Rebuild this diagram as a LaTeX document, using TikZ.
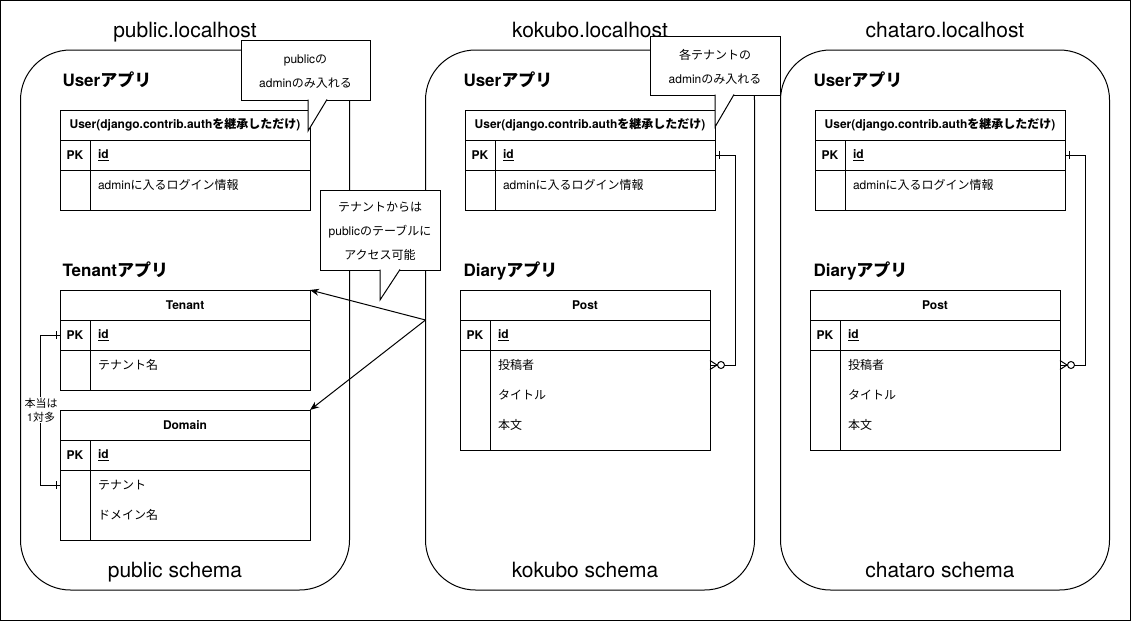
\documentclass[tikz,border=0pt]{standalone}
\usepackage{fontspec}
\setmainfont{TeX Gyre Heros}
\newfontfamily\jp{Noto Sans CJK JP}
\usetikzlibrary{arrows.meta}
\usetikzlibrary{calc}

% one ER table: name, x, y, title, body height, rows
\newcommand{\ertable}[6]{%
\node[tblhead,anchor=north west] (#1-head) at (#2,#3) {#4};
\node[pkcell,anchor=north west] (#1-pk) at (#1-head.south west) {PK};
\node[idcell,anchor=north west] (#1-id) at (#1-pk.north east) {\underline{id}};
\draw (#1-pk.south west) rectangle ($(#1-id.south east)+(0,#5)$);
\draw (#1-pk.south east) -- ++(0,#5);
\foreach \fld [count=\k] in {#6}
  \node[fieldcell,anchor=north west] (#1-r\k) at ($(#1-id.south west)+(0,{30*(\k-1)})$) {\fld};
}

\begin{document}
\begin{tikzpicture}[x=1pt,y=-1pt,line width=1pt,
schema/.style={draw,rounded corners=50pt,minimum width=329,minimum height=540,inner sep=0,outer sep=0},
host/.style={anchor=base,inner sep=0,font=\fontsize{21}{24}\selectfont},
applabel/.style={anchor=base west,inner sep=0,font=\fontsize{17}{20}\selectfont\bfseries},
tblhead/.style={draw,minimum width=250,minimum height=30,inner sep=0,outer sep=0,font=\fontsize{12}{14}\selectfont\bfseries},
pkcell/.style={draw,minimum width=30,minimum height=30,inner sep=0,outer sep=0,font=\fontsize{12}{14}\selectfont\bfseries},
idcell/.style={draw,text width=204pt,inner xsep=8pt,inner ysep=0,minimum height=30,outer sep=0,align=left,font=\fontsize{12}{14}\selectfont\bfseries},
fieldcell/.style={text width=204pt,inner xsep=8pt,inner ysep=0,minimum height=30,outer sep=0,align=left,font=\fontsize{12}{14}\selectfont},
note/.style={align=center,inner sep=0,font=\fontsize{12}{24}\selectfont},
relnote/.style={fill=white,align=center,inner sep=1pt,font=\fontsize{11}{14}\selectfont}]
\useasboundingbox (0,0) rectangle (1131,621);
\draw (0.5,0.5) rectangle (1130.5,620.5);

% public
\node[schema] (public) at (185,320) {};
\node[host] at (185,37) {public.localhost};
\node[host] at (175,577) {public schema};
\node[applabel] at (62,86) {User{\jp アプリ}};
\ertable{public-user}{60}{110}{User(django.contrib.auth{\jp を継承しただけ})}{40}{admin{\jp に入るログイン情報}}
\node[applabel] at (62,276) {Tenant{\jp アプリ}};
\ertable{tenant}{60}{290}{Tenant}{40}{{\jp テナント名}}
\ertable{domain}{60}{410}{Domain}{70}{{\jp テナント},{\jp ドメイン名}}

\draw (tenant-pk.west) -- ++(-20,0) |- (domain-r1.west -| domain-pk.west);
\draw ([xshift=-4pt]tenant-pk.west) ++(0,-4) -- ++(0,8);
\draw ([xshift=-4pt]domain-r1.west -| domain-pk.west) ++(0,-4) -- ++(0,8);
\node[relnote] at (41,410) {{\jp 本当は}\\1{\jp 対多}};

% tenants
\foreach \nm/\dx/\cx in {kokubo/0/590,chataro/350/945} {
  \node[schema] (\nm) at (\cx,320) {};
  \node[host] at (\cx,37) {\nm.localhost};
  \node[host] at (\cx-5,577) {\nm\ schema};
  \node[applabel] at (463+\dx,86) {User{\jp アプリ}};
  \ertable{\nm-user}{465+\dx}{110}{User(django.contrib.auth{\jp を継承しただけ})}{40}{admin{\jp に入るログイン情報}}
  \node[applabel] at (463+\dx,276) {Diary{\jp アプリ}};
  \ertable{\nm-post}{460+\dx}{290}{Post}{100}{{\jp 投稿者},{\jp タイトル},{\jp 本文}}
  \draw (\nm-user-id.east) -- ++(20,0) |- (\nm-post-r1.east);
  \draw ([xshift=4pt]\nm-user-id.east) ++(0,-4) -- ++(0,8);
  \draw ([xshift=7pt]\nm-post-r1.east) -- ++(-7,-4.5) ([xshift=7pt]\nm-post-r1.east) -- ++(-7,4.5);
  \draw[fill=white] ([xshift=11pt]\nm-post-r1.east) circle[radius=3.5pt];
}

\draw[-{Stealth[length=9pt,width=7pt]}] (kokubo.west) -- (tenant-head.north east);
\draw[-{Stealth[length=9pt,width=7pt]}] (kokubo.west) -- (domain-head.north east);

% callouts
\draw[fill=white] (241,40) rectangle (370,100);
\draw[fill=white] (308,99.5) -- (308,131) -- (327,99.5);
\node[note] (pubnote) at (305.5,72) {public{\jp の}\\admin{\jp のみ入れる}};
\draw[fill=white] (650,36) rectangle (780,95);
\draw[fill=white] (715,94.5) -- (715,127) -- (734,94.5);
\node[note] (tenantnote) at (715,67) {{\jp 各テナントの}\\admin{\jp のみ入れる}};
\draw[fill=white] (320,190) rectangle (440,270);
\draw[fill=white] (380,269.5) -- (380,300) -- (400,269.5);
\node[note] (accessnote) at (380,231) {{\jp テナントからは}\\public{\jp のテーブルに}\\{\jp アクセス可能}};
\end{tikzpicture}
\end{document}
